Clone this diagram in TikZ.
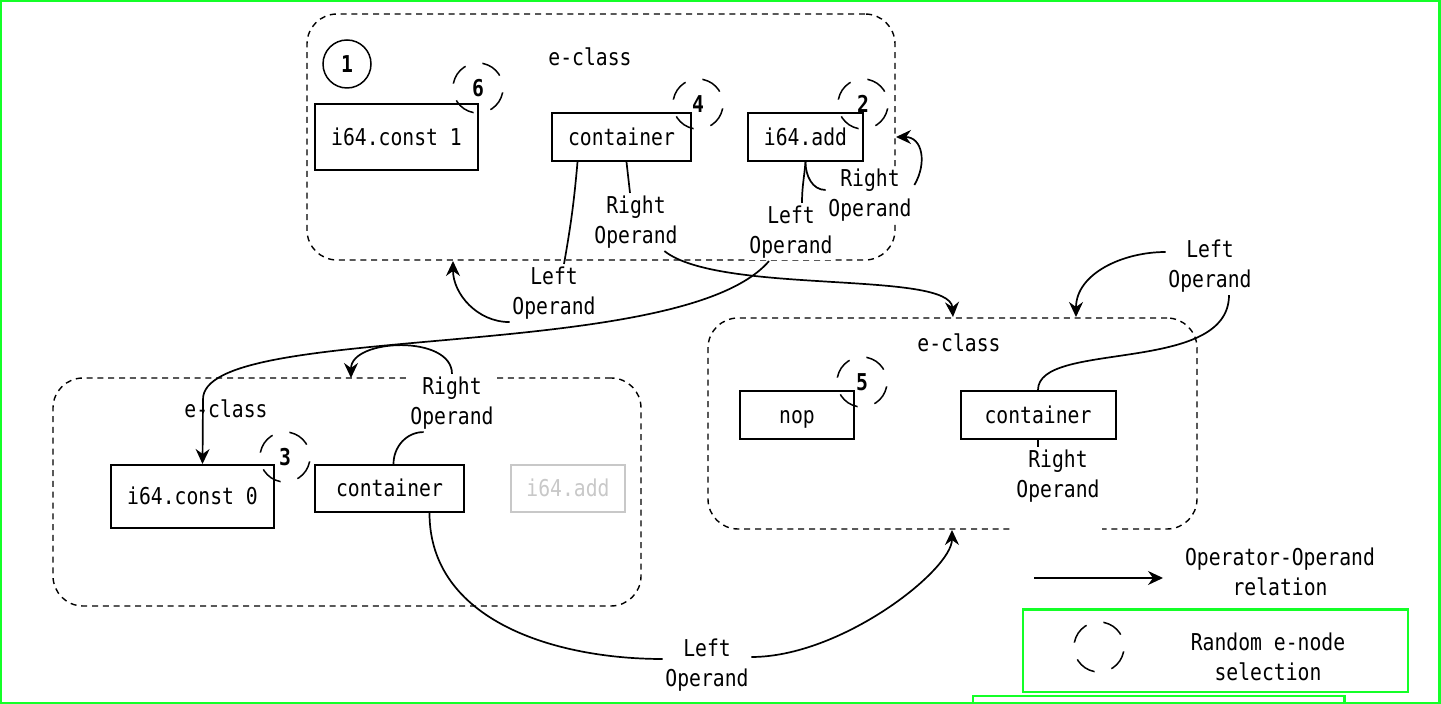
\documentclass[tikz,border=0pt]{standalone}
\usepackage{fontspec}
\setmonofont[FakeStretch=0.85]{DejaVu Sans Mono}
\usetikzlibrary{positioning,arrows.meta}
\definecolor{framegreen}{RGB}{20,255,40}
\definecolor{ghostgray}{RGB}{200,200,200}
\tikzset{
egraphpic/.style={
  x=0.5pt,y=-0.5pt
    ,font=\ttfamily\fontsize{11.6}{15}\selectfont
    ,line width=0.85pt
}
,eclass/.style={draw,rounded corners=15pt,dash pattern=on 3pt off 2.4pt
  ,line width=0.7pt,inner sep=0pt}
,enode/.style={draw,line width=1pt,inner sep=0pt,minimum height=24pt
  ,text height=8.5pt,text depth=0pt}
,ghostnode/.style={enode,draw=ghostgray,text=ghostgray}
,pick/.style={circle,draw,line width=0.75pt,minimum size=25pt,inner sep=0pt
  ,font=\ttfamily\bfseries\fontsize{11.6}{15}\selectfont
  ,dash pattern=on 10.9pt off 8.7pt,dash phase=13.1pt}
,firstpick/.style={pick,solid,minimum size=24pt}
,oplabel/.style={fill=white,align=center,inner sep=1pt}
,operand/.style={-{Stealth[length=7.5pt,width=7pt,inset=2.5pt]}}
,legendframe/.style={draw=framegreen,line width=1.25pt}
}
\begin{document}
\begin{tikzpicture}[egraphpic]
  \useasboundingbox (0,0) rectangle (1441,704);
  % top e-class
  \node[eclass,minimum width=294pt,minimum height=123pt] (topcls) at (601,137) {};
  \node (topnm) at (590,57) {e-class};
  \node[firstpick] (one) at (347,64) {1};
  \node[enode,minimum width=81.5pt,minimum height=33pt] (cst1) at (396.5,137) {i64.const 1};
  \node[enode,minimum width=69.5pt] (ctop) at (621.5,137) {container};
  \node[enode,minimum width=57.5pt] (addtop) at (805.5,137) {i64.add};
  \node[pick] (p6) at (478,88) {6};
  \node[pick] (p4) at (698,104) {4};
  \node[pick] (p2) at (863,104) {2};
  % right e-class
  \node[eclass,minimum width=244.5pt,minimum height=105.5pt] (rcls) at (952.5,423.5) {};
  \node (rnm) at (959,343) {e-class};
  \node[enode,minimum width=57pt] (nop) at (797,415) {nop};
  \node[enode,minimum width=77.5pt] (cr) at (1038,415) {container};
  \node[pick] (p5) at (862,382) {5};
  % bottom e-class
  \node[eclass,minimum width=294pt,minimum height=114pt] (blcls) at (347,492) {};
  \node (blnm) at (226,409) {e-class};
  \node[enode,minimum width=81.5pt,minimum height=31.5pt] (cst0) at (192.5,496.5) {i64.const 0};
  \node[enode,minimum width=74.5pt,minimum height=23.5pt] (cbl) at (389.5,488.5) {container};
  \node[ghostnode,minimum width=57pt,minimum height=23.5pt] (addbl) at (568,488.5) {i64.add};
  \node[pick] (p3) at (285,457) {3};
  % arrow ends on the e-class borders
  \coordinate (topin1) at (453,261);
  \coordinate (topin2) at (896,137);
  \coordinate (rin1) at (953,317);
  \coordinate (rin2) at (1076,317);
  \coordinate (rin3) at (952,530);
  \coordinate (blin) at (351,378);
  % operand labels
  \node[oplabel] (lo1) at (554,293) {Left\\Operand};
  \node[oplabel] (ro1) at (636,222) {Right\\Operand};
  \node[oplabel] (lo2) at (791,232) {Left\\Operand};
  \node[oplabel] (ro2) at (870,195) {Right\\Operand};
  \node[oplabel] (lo3) at (1210,266) {Left\\Operand};
  \node[oplabel,anchor=north] (ro3) at (1058,447) {Right\\Operand\\[-4pt]\strut};
  \node[oplabel] (ro4) at (452,403) {Right\\Operand};
  \node[oplabel] (lo4) at (707,665) {Left\\Operand};
  % top e-class edges
  \draw ([xshift=-22pt]ctop.south) to[out=-95,in=80] ([xshift=5pt]lo1.north);
  \draw[operand] (lo1.south west) to[out=180,in=-90] (topin1);
  \draw ([xshift=2.5pt]ctop.south) -- ([xshift=-3pt]ro1.north);
  \draw[operand] ([xshift=-8pt]ro1.south east) .. controls (720,295) and (950,270) .. (rin1);
  \draw (addtop.south) to[out=-95,in=90] ([xshift=5.5pt]lo2.north);
  \draw[operand] ([xshift=-11pt]lo2.south) .. controls (680,365) and (200,320) .. (203,400) -- ([xshift=5pt]cst0.north);
  \draw (addtop.south) to[out=-90,in=180] ([yshift=2.5pt]ro2.west);
  \draw[operand] ([yshift=5pt]ro2.east) to[out=60,in=0,looseness=1.3] (topin2);
  % right e-class edges
  \draw (cr.north) .. controls (1038,340) and (1229,375) .. ([xshift=9.5pt]lo3.south);
  \draw[operand] ([yshift=7pt]lo3.west) to[out=180,in=90] (rin2);
  \draw (cr.south) -- (cr.south |- ro3.north);
  % bottom e-class edges
  \draw ([xshift=2pt]cbl.north) to[out=90,in=180] ([xshift=8pt]ro4.south west);
  \draw[operand] (ro4.north) to[out=90,in=90] (blin);
  \draw ([xshift=20pt]cbl.south) to[out=-90,in=180] ([yshift=3pt]lo4.west);
  \draw[operand] ([yshift=4pt]lo4.east) .. controls +(90,0) and +(0,40) .. (rin3);
  % legend
  \coordinate (lega) at (1034,578);
  \coordinate (legb) at (1163,578);
  \draw[operand] (lega) -- (legb);
  \node[align=center] (legop) at (1280,572) {Operator-Operand\\relation};
  \node[pick] (legpick) at (1099,647) {};
  \node[align=center] (legsel) at (1268,657) {Random e-node\\selection};
  \draw[legendframe] (1,1) rectangle (1439.5,703);
  \draw[legendframe] (1023,609.5) rectangle (1408,692);
  \draw[legendframe] (973,704) |- (1344.5,696) -- (1344.5,704);
\end{tikzpicture}
\end{document}
